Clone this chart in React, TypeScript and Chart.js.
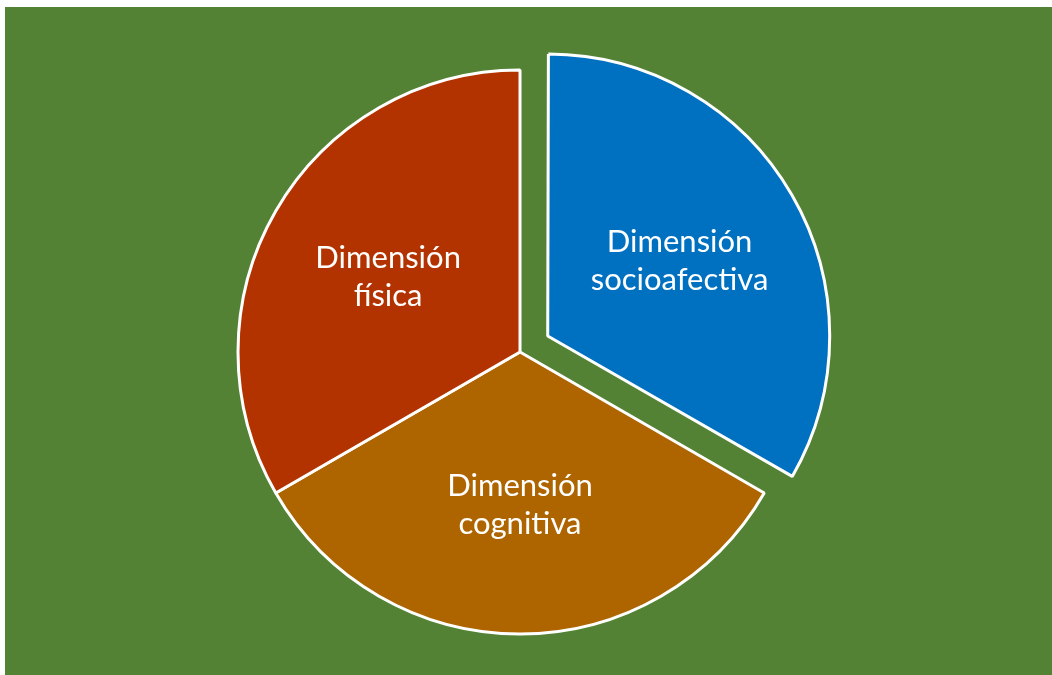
import React, { useEffect, useRef } from "react";
import { Chart, registerables } from "chart.js";

Chart.register(...registerables);

const categories: string[] = ["Dimensión socioafectiva", "Dimensión cognitiva", "Dimensión física"];
const values: number[] = [33.3, 33.3, 33.3];
const sliceColors: string[] = ["#0070C0", "#AE6500", "#B33300"];
const explodeOffsets: number[] = [32, 0, 0];

const radiusFixPlugin = {
  id: "radiusFix",
  beforeDatasetsDraw(chart: any) {
    const meta = chart.getDatasetMeta(0);
    const base = meta.controller.outerRadius;
    meta.data.forEach((arc: any) => {
      const off = (arc.options.offset || 0) / 4;
      const fix = 1 - Math.sin(Math.min(Math.PI, arc.circumference || 0));
      arc.outerRadius = base - off * fix;
    });
  },
};

const labelPlugin = {
  id: "sliceLabels",
  afterDatasetsDraw(chart: any) {
    const ctx = chart.ctx;
    const meta = chart.getDatasetMeta(0);
    ctx.save();
    ctx.fillStyle = "#ffffff";
    ctx.font = "31px Lato";
    ctx.textAlign = "center";
    ctx.textBaseline = "alphabetic";
    meta.data.forEach((arc: any, i: number) => {
      const p = arc.getProps(["x", "y", "startAngle", "endAngle"], true);
      const mid = (p.startAngle + p.endAngle) / 2;
      const off = (arc.options.offset || 0) / 4;
      const r = off + meta.controller.outerRadius * 0.54;
      const cx = p.x + Math.cos(mid) * r;
      const cy = p.y + Math.sin(mid) * r;
      const label = String(chart.data.labels[i]);
      const sp = label.indexOf(" ");
      const lines = sp > 0 ? [label.slice(0, sp), label.slice(sp + 1)] : [label];
      const lh = 38;
      const start = cy - ((lines.length - 1) * lh) / 2 + 11;
      lines.forEach((ln, k) => ctx.fillText(ln, cx, start + k * lh));
    });
    ctx.restore();
  },
};

export default function App() {
  const ref = useRef<HTMLCanvasElement | null>(null);
  useEffect(() => {
    if (!ref.current) return;
    const chart = new Chart(ref.current, {
      type: "pie",
      data: {
        labels: categories,
        datasets: [
          {
            data: values,
            backgroundColor: sliceColors,
            borderColor: "#ffffff",
            borderWidth: 3,
            offset: explodeOffsets.map((o) => o * 4),
          },
        ],
      },
      options: {
        responsive: false,
        animation: false,
        devicePixelRatio: 1,
        events: [],
        radius: 282,
        layout: { padding: { left: 0, right: 17, top: 22, bottom: 0 } },
        plugins: {
          legend: { display: false },
          tooltip: { enabled: false },
        },
      } as any,
      plugins: [radiusFixPlugin, labelPlugin],
    });
    return () => chart.destroy();
  }, []);
  return (
    <div style={{ position: "fixed", left: 0, top: 0, width: 1052, height: 675, background: "#ffffff" }}>
      <canvas
        ref={ref}
        width={1047}
        height={668}
        style={{ position: "absolute", left: 5, top: 7, width: 1047, height: 668, background: "#548235" }}
      />
    </div>
  );
}
